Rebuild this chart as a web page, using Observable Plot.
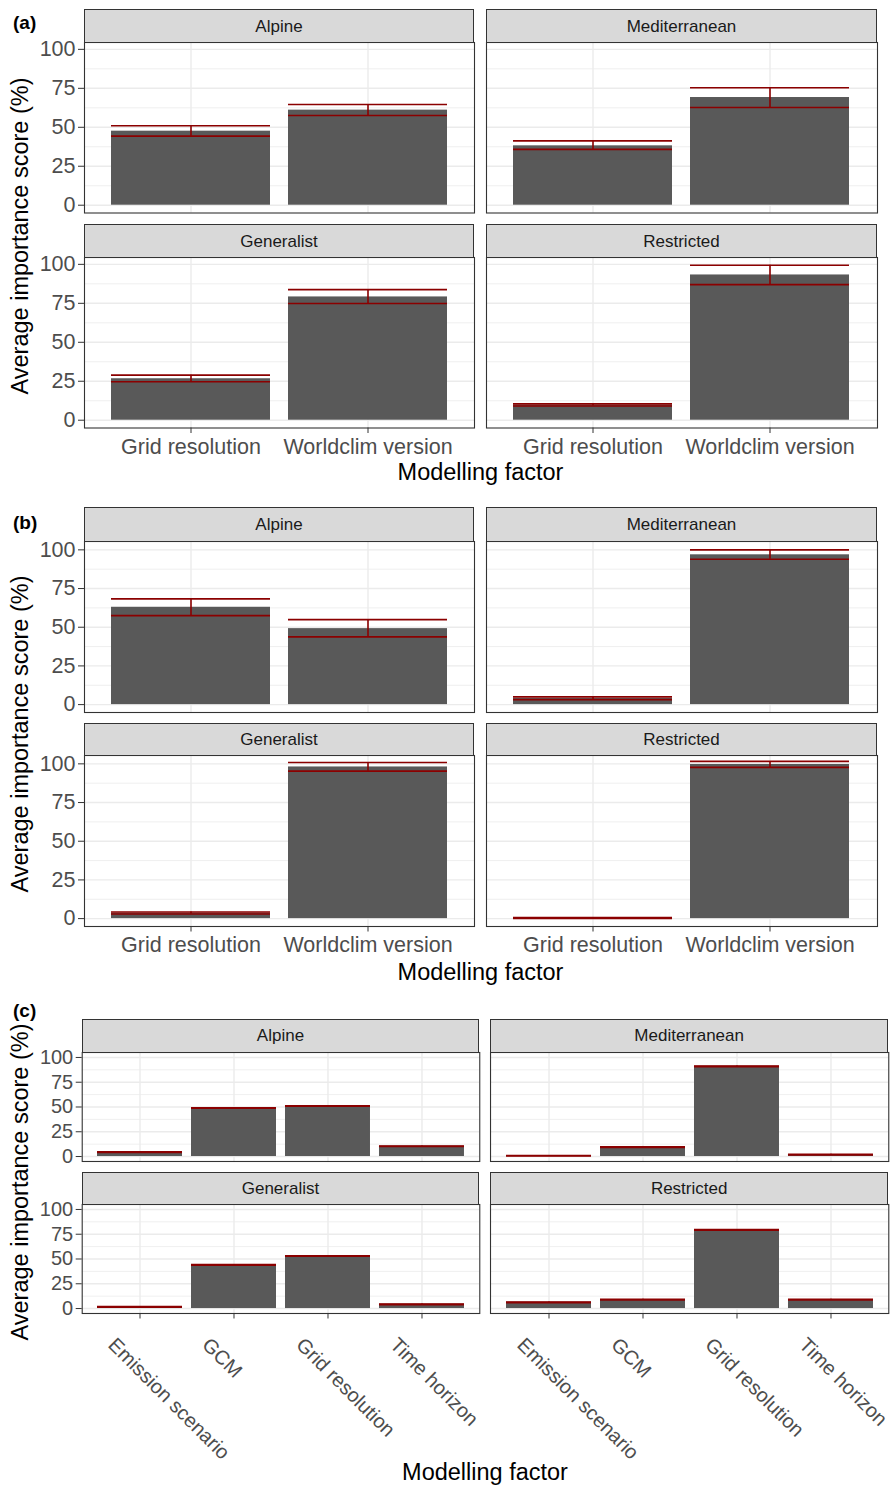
<!DOCTYPE html>
<html><head><meta charset="utf-8">
<script src="https://cdn.jsdelivr.net/npm/d3@7"></script>
<script src="https://cdn.jsdelivr.net/npm/@observablehq/plot@0.6"></script>
<style>
body{margin:0;background:#fff;font-family:"Liberation Sans",Arial,sans-serif;}
#root{position:relative;width:894px;height:1485px;overflow:hidden;background:#fff;}
.pn{position:absolute;}
.strip{position:absolute;box-sizing:border-box;background:#d9d9d9;border:1.1px solid #333;color:#1a1a1a;font-size:17px;display:flex;align-items:center;justify-content:center;line-height:1;}
.tag{position:absolute;font-weight:bold;font-size:19px;line-height:1;color:#000;}
.ytitle{position:absolute;font-size:23.5px;line-height:1;white-space:nowrap;transform:translate(-50%,-50%) rotate(-90deg);color:#000;}
.xtitle{position:absolute;font-size:23.5px;line-height:1;white-space:nowrap;transform:translate(-50%,-50%);color:#000;}
</style></head><body><div id="root"></div>
<script>
// ---- data ----
const groups = ["Alpine", "Mediterranean", "Generalist", "Restricted"];
const factorsAB = ["Grid resolution", "Worldclim version"];
const factorsC = ["Emission scenario", "GCM", "Grid resolution", "Time horizon"];
const yTicks = [0, 25, 50, 75, 100];
const yMinor = [12.5, 37.5, 62.5, 87.5];

// (a) rows in group order: Alpine, Mediterranean, Generalist, Restricted
const aMean = [[47.5, 61.0], [38.1, 69.1], [26.6, 79.1], [9.8, 93.2]];
const aLow  = [[44.3, 57.6], [35.8, 62.7], [24.7, 74.9], [9.1, 87.0]];
const aHigh = [[51.0, 64.6], [41.3, 75.4], [28.9, 83.8], [10.5, 99.4]];

// (b)
const bMean = [[62.9, 49.1], [4.1, 96.8], [3.6, 98.0], [0.4, 99.6]];
const bLow  = [[57.5, 43.8], [3.2, 93.9], [3.0, 95.3], [0.1, 97.7]];
const bHigh = [[68.3, 54.9], [5.0, 100.0], [4.3, 100.9], [0.7, 101.6]];

// (c)
const cMean = [[4.4, 49.0, 51.0, 10.4], [0.8, 9.4, 91.0, 2.0], [1.7, 44.0, 53.0, 4.3], [6.3, 9.0, 79.3, 9.0]];
const cLow  = [[4.1, 48.7, 50.7, 10.1], [0.5, 9.1, 90.7, 1.7], [1.4, 43.7, 52.7, 4.0], [6.0, 8.7, 79.0, 8.7]];
const cHigh = [[4.7, 49.3, 51.3, 10.7], [1.1, 9.7, 91.3, 2.3], [2.0, 44.3, 53.3, 4.6], [6.6, 9.3, 79.6, 9.3]];

function rowsFor(means, lows, highs, factors, gi) {
  return factors.map((f, j) => ({group: groups[gi], factor: f, mean: means[gi][j], low: lows[gi][j], high: highs[gi][j]}));
}

const root = document.getElementById("root");
const FONT = "Liberation Sans, Arial, sans-serif";

function addDiv(cls, text, style) {
  const d = document.createElement("div");
  d.className = cls;
  d.textContent = text;
  Object.assign(d.style, style);
  root.appendChild(d);
  return d;
}

function panel(o) {
  const mL = o.yAxis ? o.left : 1;
  const mB = o.xAxis ? (o.rotate ? 170 : 45) : 1;
  const marks = [
    Plot.ruleY(yMinor, {stroke: "#ebebeb", strokeWidth: 0.8}),
    Plot.ruleY(yTicks, {stroke: "#ebebeb", strokeWidth: 1.4}),
    Plot.ruleX(o.factors, {x: d => d, stroke: "#ebebeb", strokeWidth: 1.4}),
    Plot.barY(o.rows, {x: "factor", y: "mean", fill: "#595959"}),
    Plot.tickY(o.rows, {x: "factor", y: "high", stroke: "#8b0000", strokeWidth: 1.6}),
    Plot.tickY(o.rows, {x: "factor", y: "low", stroke: "#8b0000", strokeWidth: 1.6}),
    Plot.ruleX(o.rows, {x: "factor", y1: "low", y2: "high", stroke: "#8b0000", strokeWidth: 1.6}),
    Plot.frame({stroke: "#333", strokeWidth: 1.1})
  ];
  if (o.yAxis) marks.push(Plot.axisY(yTicks, {tickSize: 6, tickPadding: 3, fontSize: o.fs, fill: "#4d4d4d", stroke: "#333", label: null}));
  if (o.xAxis) {
    if (o.rotate) {
      marks.push(Plot.axisX({tickSize: 5.5, tickFormat: () => "", stroke: "#333", label: null}));
      marks.push(Plot.axisX({tickSize: 0, tickPadding: 8.5, tickRotate: 45, dx: -28.5, dy: 19.5, fontSize: o.fs, fill: "#4d4d4d", label: null}));
    } else {
      marks.push(Plot.axisX({tickSize: 5.5, tickPadding: 5, fontSize: o.fs, fill: "#4d4d4d", stroke: "#333", label: null}));
    }
  }
  const chart = Plot.plot({
    width: mL + o.w + 1,
    height: 1 + o.h + mB,
    marginLeft: mL, marginRight: 1, marginTop: 1, marginBottom: mB,
    style: {fontFamily: FONT, overflow: "visible", background: "none"},
    x: {type: "band", domain: o.factors, paddingInner: 0.1, paddingOuter: 0.15, axis: null},
    y: {domain: o.domain, axis: null},
    marks
  });
  const wrap = document.createElement("div");
  wrap.className = "pn";
  wrap.style.left = (o.left - mL) + "px";
  wrap.style.top = (o.top - 1) + "px";
  wrap.appendChild(chart);
  root.appendChild(wrap);
  // strip
  addDiv("strip", o.rows[0].group, {left: o.left + "px", top: o.stripTop + "px", width: o.w + "px", height: (o.top - o.stripTop + 1) + "px"});
}

function section(s) {
  for (let gi = 0; gi < 4; gi++) {
    const col = gi % 2, row = Math.floor(gi / 2);
    panel({
      rows: rowsFor(s.mean, s.low, s.high, s.factors, gi),
      factors: s.factors,
      domain: s.domain,
      left: s.cols[col].x, w: s.cols[col].w,
      top: s.rows[row].top, stripTop: s.rows[row].strip, h: s.h,
      yAxis: col === 0, xAxis: row === 1, rotate: s.rotate, fs: s.fs
    });
  }
  addDiv("tag", s.tag, {left: "13px", top: s.tagTop + "px"});
  addDiv("ytitle", "Average importance score (%)", {left: "21px", top: s.yTitleY + "px"});
  addDiv("xtitle", "Modelling factor", {left: s.xTitleX + "px", top: s.xTitleY + "px"});
}

section({
  tag: "(a)", tagTop: 13, mean: aMean, low: aLow, high: aHigh, factors: factorsAB,
  domain: [-5, 104.4], h: 170.5, fs: 21.5, rotate: false,
  cols: [{x: 84, w: 390}, {x: 486, w: 391}],
  rows: [{strip: 9, top: 42.3}, {strip: 224.3, top: 257.3}],
  yTitleY: 236, xTitleX: 480.5, xTitleY: 473
});
section({
  tag: "(b)", tagTop: 513, mean: bMean, low: bLow, high: bHigh, factors: factorsAB,
  domain: [-5.1, 105.4], h: 171, fs: 21.5, rotate: false,
  cols: [{x: 84, w: 390}, {x: 486, w: 391}],
  rows: [{strip: 507.3, top: 540.7}, {strip: 722.7, top: 755.3}],
  yTitleY: 734, xTitleX: 480.5, xTitleY: 973
});
section({
  tag: "(c)", tagTop: 1001, mean: cMean, low: cLow, high: cHigh, factors: factorsC,
  domain: [-5, 105], h: 109, fs: 20, rotate: true,
  cols: [{x: 81.7, w: 397.6}, {x: 490, w: 398.3}],
  rows: [{strip: 1019.3, top: 1051.7}, {strip: 1172, top: 1204.3}],
  yTitleY: 1182, xTitleX: 485, xTitleY: 1473
});
</script></body></html>
